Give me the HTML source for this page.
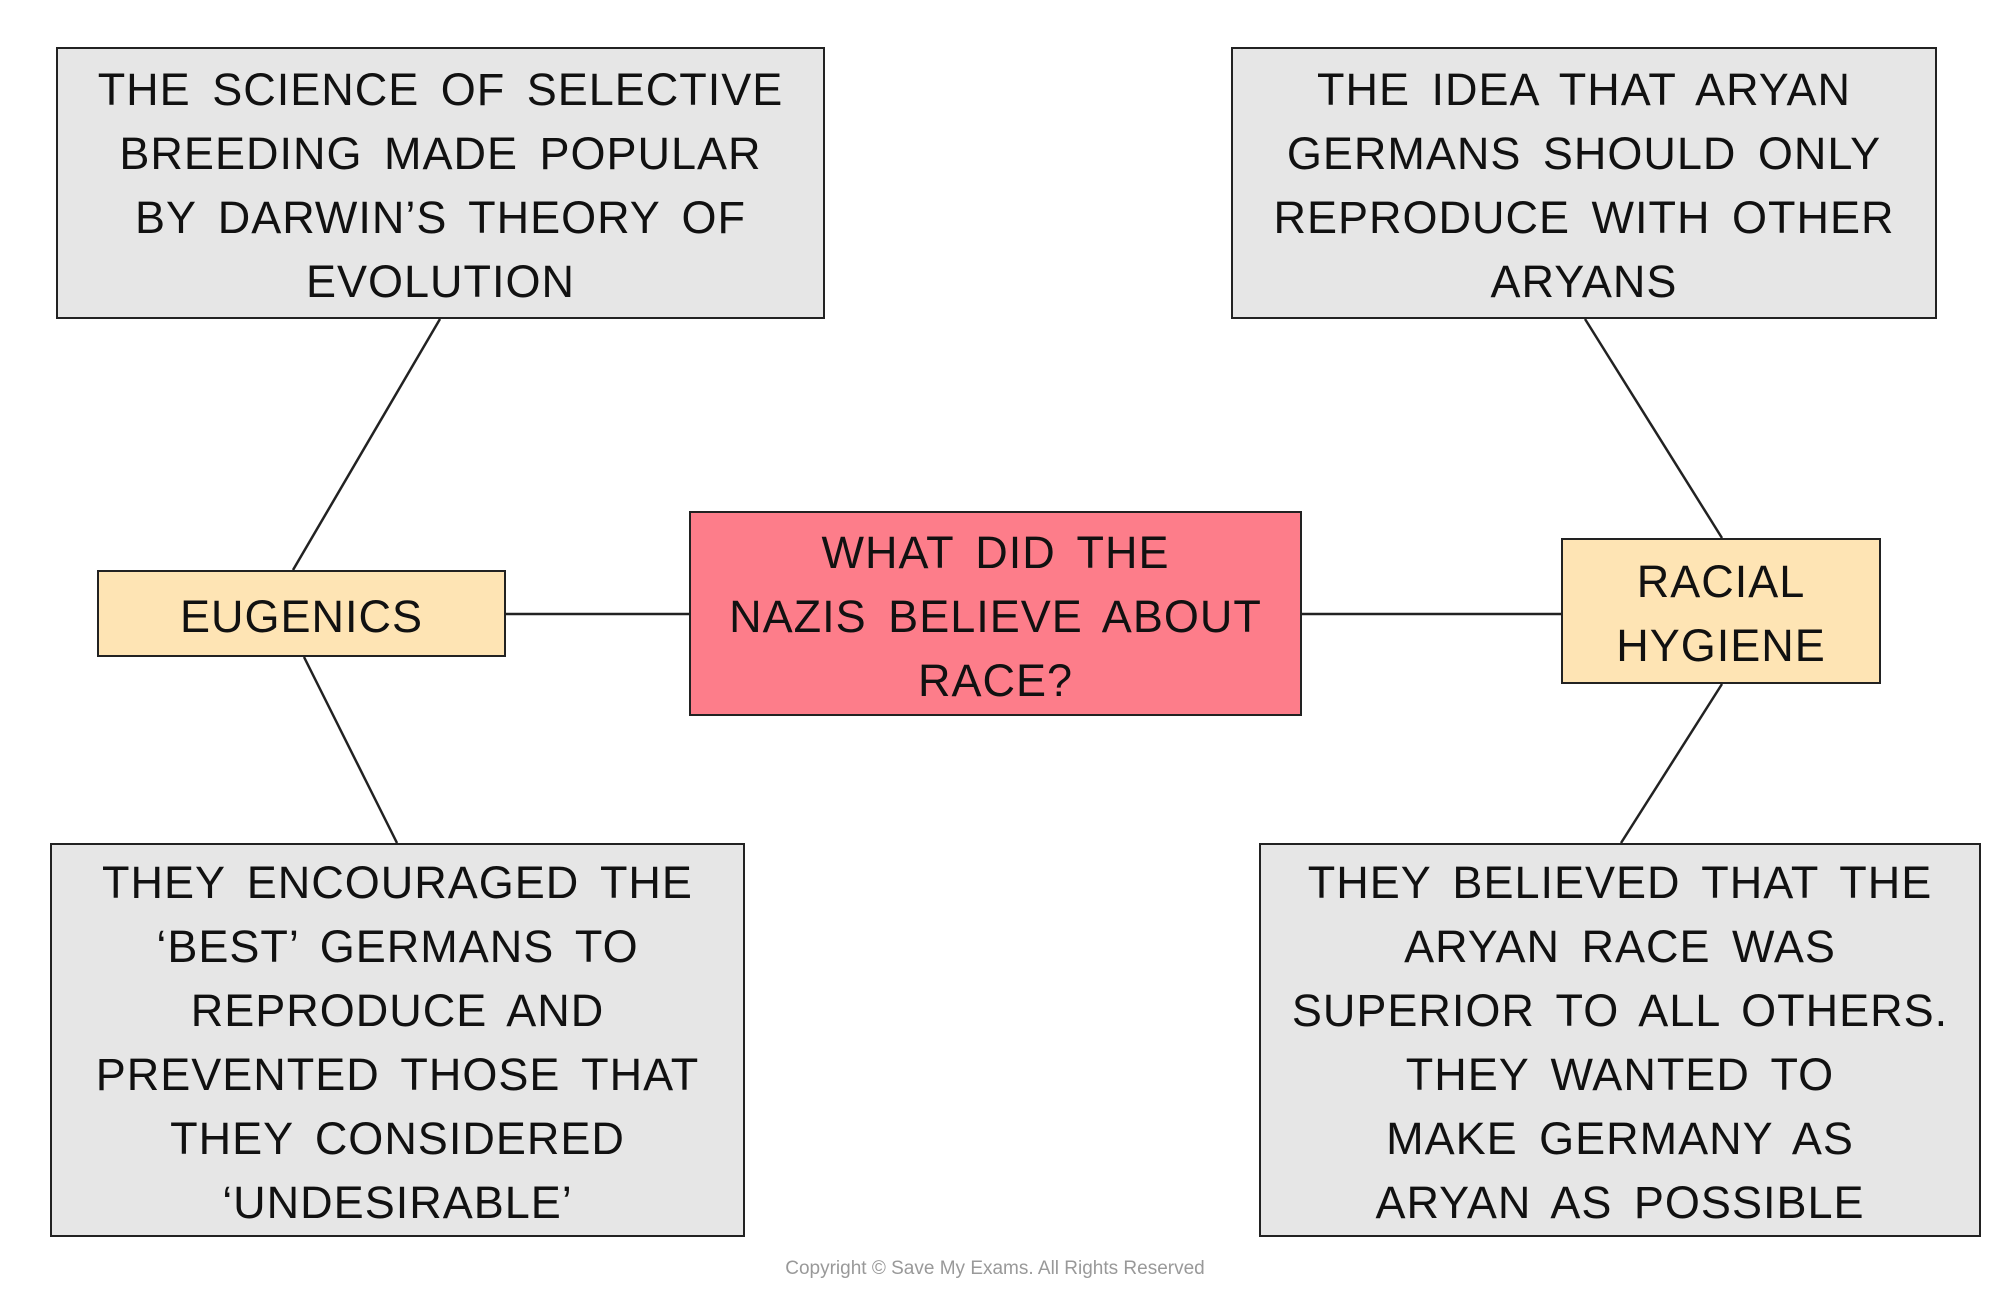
<!DOCTYPE html>
<html><head><meta charset="utf-8"><style>
body{margin:0;width:2000px;height:1305px;background:#fff;position:relative;overflow:hidden;font-family:"Liberation Sans",sans-serif;}
.b{position:absolute;box-sizing:border-box;border:2px solid #222;display:flex;align-items:center;justify-content:center;text-align:center;font-size:45px;line-height:64px;color:#111;word-spacing:8px;letter-spacing:1px;padding-top:6px;}
.g{background:#e6e6e6}.y{background:#fee4b4}.r{background:#fd7d8a}
svg{position:absolute;left:0;top:0}
</style></head><body>
<svg width="2000" height="1305"><g stroke="#222" stroke-width="2.5">
<line x1="440" y1="319" x2="293" y2="570"/>
<line x1="304" y1="657" x2="397" y2="843"/>
<line x1="506" y1="614" x2="689" y2="614"/>
<line x1="1302" y1="614" x2="1561" y2="614"/>
<line x1="1585" y1="319" x2="1722" y2="538"/>
<line x1="1722" y1="684" x2="1621" y2="843"/>
</g></svg>
<div class="b g" style="left:56px;top:47px;width:769px;height:272px">THE SCIENCE OF SELECTIVE<br>BREEDING MADE POPULAR<br>BY DARWIN’S THEORY OF<br>EVOLUTION</div>
<div class="b g" style="left:1231px;top:47px;width:706px;height:272px">THE IDEA THAT ARYAN<br>GERMANS SHOULD ONLY<br>REPRODUCE WITH OTHER<br>ARYANS</div>
<div class="b y" style="left:97px;top:570px;width:409px;height:87px">EUGENICS</div>
<div class="b r" style="left:689px;top:511px;width:613px;height:205px">WHAT DID THE<br>NAZIS BELIEVE ABOUT<br>RACE?</div>
<div class="b y" style="left:1561px;top:538px;width:320px;height:146px">RACIAL<br>HYGIENE</div>
<div class="b g" style="left:50px;top:843px;width:695px;height:394px">THEY ENCOURAGED THE<br>‘BEST’ GERMANS TO<br>REPRODUCE AND<br>PREVENTED THOSE THAT<br>THEY CONSIDERED<br>‘UNDESIRABLE’</div>
<div class="b g" style="left:1259px;top:843px;width:722px;height:394px">THEY BELIEVED THAT THE<br>ARYAN RACE WAS<br>SUPERIOR TO ALL OTHERS.<br>THEY WANTED TO<br>MAKE GERMANY AS<br>ARYAN AS POSSIBLE</div>
<div style="position:absolute;left:0;width:1990px;top:1258px;text-align:center;font-size:19px;color:#999">Copyright © Save My Exams. All Rights Reserved</div>
</body></html>
